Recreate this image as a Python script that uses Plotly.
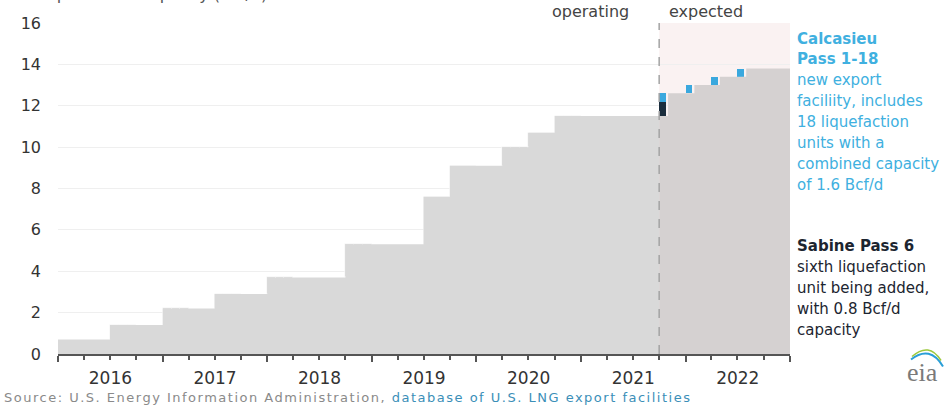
import plotly.graph_objects as go
import pandas as pd

# ---------------- data (Bcf/d) ----------------
operating_dates = ["2016-01-01", "2016-07-01", "2017-01-01", "2017-07-01", "2018-01-01",
                   "2018-10-01", "2019-07-01", "2019-10-01", "2020-04-01", "2020-07-01",
                   "2020-10-01", "2021-10-01"]
operating_capacity = [0.7, 1.4, 2.2, 2.9, 3.7, 5.3, 7.6, 9.1, 10.0, 10.7, 11.5, 11.5]

expected_dates = ["2021-10-01", "2021-11-01", "2022-02-01", "2022-05-01", "2022-08-01", "2023-01-01"]
expected_capacity = [11.5, 12.6, 13.0, 13.4, 13.8, 13.8]

calcasieu_months = ["2021-10-01", "2022-01-01", "2022-04-01", "2022-07-01"]
calcasieu_base = [12.2, 12.6, 13.0, 13.4]
calcasieu_added = [0.4, 0.4, 0.4, 0.4]

sabine6_months = ["2021-10-01"]
sabine6_base = [11.5]
sabine6_added = [0.7]

y_ticks = [0, 2, 4, 6, 8, 10, 12, 14, 16]

calcasieu_lines = ["<b>Calcasieu</b>", "<b>Pass 1-18</b>", "new export", "faciliity, includes",
                   "18 liquefaction", "units with a", "combined capacity", "of 1.6 Bcf/d"]
sabine_lines = ["<b>Sabine Pass 6</b>", "sixth liquefaction", "unit being added,",
                "with 0.8 Bcf/d", "capacity"]

FONT = "DejaVu Sans"
DAY_MS = 86400000

fig = go.Figure()

# operating capacity area
fig.add_trace(go.Scatter(
    x=operating_dates, y=operating_capacity, mode="lines", line=dict(width=0, shape="hv"),
    fill="tozeroy", fillcolor="#d9d9d9", hoverinfo="skip", showlegend=False))

# newly added units (first months, lighter with unit grid)
for i in range(1, len(operating_dates) - 1):
    months = pd.date_range(operating_dates[i], periods=3, freq="MS")
    widths = [((m + pd.offsets.MonthBegin(1)) - m).days * DAY_MS for m in months]
    base = operating_capacity[i - 1]
    top = operating_capacity[i]
    fig.add_trace(go.Bar(
        x=months, y=[top - base] * 3, base=[base] * 3, offset=0, width=widths,
        marker=dict(color="#dddddd", line=dict(color="rgba(255,255,255,0.75)", width=0.8)),
        hoverinfo="skip", showlegend=False))

# expected capacity area
fig.add_trace(go.Scatter(
    x=expected_dates, y=expected_capacity, mode="lines", line=dict(width=0, shape="hv"),
    fill="tozeroy", fillcolor="#d5d1d1", hoverinfo="skip", showlegend=False))

# Sabine Pass 6
fig.add_trace(go.Bar(
    x=sabine6_months, y=sabine6_added, base=sabine6_base, offset=0,
    width=[24 * DAY_MS] * len(sabine6_months),
    marker=dict(color="#1b2d3d", line=dict(width=0)), hoverinfo="skip", showlegend=False))

# Calcasieu Pass
fig.add_trace(go.Bar(
    x=calcasieu_months, y=calcasieu_added, base=calcasieu_base, offset=0,
    width=[24 * DAY_MS] * len(calcasieu_months),
    marker=dict(color="#3aa8de", line=dict(width=0)), hoverinfo="skip", showlegend=False))

# expected background + divider
fig.add_shape(type="rect", xref="x", yref="y", x0=expected_dates[0], x1=expected_dates[-1],
              y0=0, y1=16, fillcolor="#faf2f2", line=dict(width=0), layer="below")
fig.add_shape(type="line", xref="x", yref="paper", x0=expected_dates[0], x1=expected_dates[0],
              y0=0, y1=1, line=dict(color="#a3a3a3", width=1.5, dash="dash"), layer="above")


def px(xp, yp):
    return (xp - 58) / 732, (353.5 - yp) / 330.5


ann = []
ann.append(dict(xref="x", yref="paper", x=expected_dates[0], y=px(0, 12)[1], xanchor="right",
                yanchor="middle", xshift=-28, text="operating", showarrow=False,
                font=dict(family=FONT, size=16, color="#444444")))
ann.append(dict(xref="x", yref="paper", x=expected_dates[0], y=px(0, 12)[1], xanchor="left",
                yanchor="middle", xshift=8, text="expected", showarrow=False,
                font=dict(family=FONT, size=16, color="#444444")))
LINE_H = 20.9
for k, line in enumerate(calcasieu_lines):
    ann.append(dict(xref="paper", yref="paper", x=px(795, 0)[0], y=px(0, 38.5 + k * LINE_H)[1],
                    xanchor="left", yanchor="middle", align="left", showarrow=False, text=line,
                    font=dict(family=FONT, size=15, color="#40b0e0")))
for k, line in enumerate(sabine_lines):
    ann.append(dict(xref="paper", yref="paper", x=px(795, 0)[0], y=px(0, 246 + k * LINE_H)[1],
                    xanchor="left", yanchor="middle", align="left", showarrow=False, text=line,
                    font=dict(family=FONT, size=15, color="#1c2530")))
ann.append(dict(xref="paper", yref="paper", x=px(3, 0)[0], y=px(0, 6)[1], xanchor="left",
                yanchor="bottom", showarrow=False,
                text="U.S. liquefaction capacity (Bcf/d)",
                font=dict(family=FONT, size=16, color="#555555")))
ann.append(dict(xref="paper", yref="paper", x=px(2, 0)[0], y=px(0, 397)[1], xanchor="left",
                yanchor="middle", showarrow=False,
                text="<span style='letter-spacing:1.5px'>"
                     "<span style='color:#8a8a8a'>Source: U.S. Energy Information Administration, </span>"
                     "<span style='color:#3b8fb8'>database of U.S. LNG export facilities</span></span>",
                font=dict(family=FONT, size=13, color="#8a8a8a")))
ann.append(dict(xref="paper", yref="paper", x=px(922, 0)[0], y=px(0, 372)[1], xanchor="center",
                yanchor="middle", showarrow=False, text="eia",
                font=dict(family="Liberation Serif", size=26, color="#7a7a7a")))
fig.update_layout(annotations=ann)

# eia logo swooshes
x1, y1 = px(911, 359)
xc, yc = px(930, 344)
x2, y2 = px(943, 366)
fig.add_shape(type="path", xref="paper", yref="paper",
              path=f"M {x1} {y1} Q {xc} {yc} {x2} {y2}", line=dict(color="#2a9fd8", width=2))
x1, y1 = px(912, 356)
xc, yc = px(929, 341)
x2, y2 = px(941, 360)
fig.add_shape(type="path", xref="paper", yref="paper",
              path=f"M {x1} {y1} Q {xc} {yc} {x2} {y2}", line=dict(color="#9cc83c", width=1.5))

fig.update_layout(
    width=949, height=408,
    margin=dict(l=58, r=159, t=23, b=54),
    paper_bgcolor="white", plot_bgcolor="white",
    barmode="overlay", bargap=0,
    showlegend=False,
    xaxis=dict(type="date", range=["2016-01-01", "2023-01-01"], dtick="M12", tick0="2016-01-01",
               tickformat="%Y", ticklabelmode="period", showgrid=False, zeroline=False,
               showline=True, linecolor="#555555", linewidth=1.5,
               ticks="outside", ticklen=6, tickwidth=1.5, tickcolor="#555555",
               minor=dict(dtick="M3", ticks="outside", ticklen=4, tickcolor="#555555", showgrid=False),
               tickfont=dict(family=FONT, size=17, color="#333333"), ticklabelstandoff=2),
    yaxis=dict(range=[0, 16], tickvals=y_ticks, showgrid=True, gridcolor="#efefef", gridwidth=1,
               zeroline=False, showline=False, ticks="",
               tickfont=dict(family=FONT, size=16, color="#333333"), ticklabelstandoff=16),
)

fig.write_html("out.html", config={"displayModeBar": False},
               post_script="document.body.style.margin='0';")
